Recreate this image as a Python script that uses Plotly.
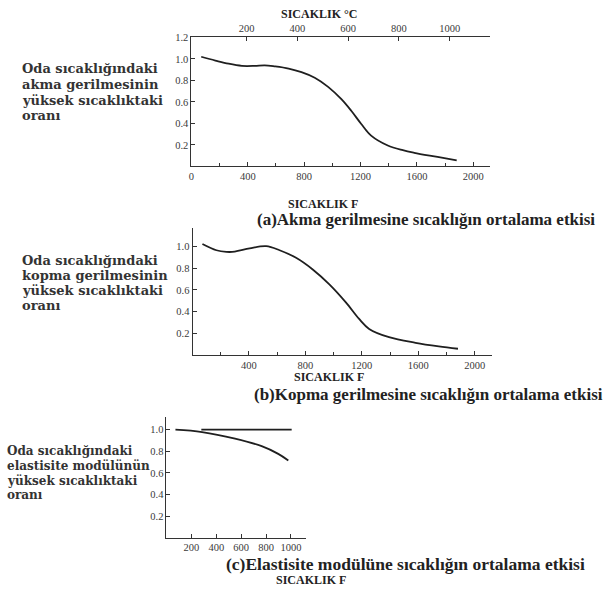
import plotly.graph_objects as go

W, H = 603, 590

# ---- data ----
a_temp_f = [70, 170, 264, 358, 450, 520, 593, 690, 781, 875, 970, 1064, 1134, 1205, 1275, 1393, 1500, 1581, 1746, 1882]
a_ratio = [1.02, 0.985, 0.955, 0.935, 0.935, 0.94, 0.93, 0.91, 0.877, 0.825, 0.74, 0.625, 0.517, 0.394, 0.286, 0.194, 0.15, 0.126, 0.087, 0.055]

b_temp_f = [70, 169, 240, 299, 405, 522, 617, 734, 852, 970, 1087, 1181, 1252, 1393, 1581, 1746, 1882]
b_ratio = [1.02, 0.963, 0.948, 0.95, 0.98, 1.0, 0.963, 0.894, 0.787, 0.65, 0.485, 0.333, 0.242, 0.166, 0.115, 0.082, 0.06]

c_temp_f_decl = [72, 286, 551, 765, 898, 979]
c_ratio_decl = [1.0, 0.978, 0.917, 0.847, 0.776, 0.715]
c_temp_f_flat = [280, 1006]
c_ratio_flat = [1.0, 1.0]

ab_xticks = [0, 400, 800, 1200, 1600, 2000]
b_xticks = [400, 800, 1200, 1600, 2000]
c_xticks = [200, 400, 600, 800, 1000]
a_yticks = [0.2, 0.4, 0.6, 0.8, 1.0, 1.2]
bc_yticks = [0.2, 0.4, 0.6, 0.8, 1.0]
celsius_ticks = [200, 400, 600, 800, 1000]

label_a = ["Oda sıcaklığındaki", "akma gerilmesinin", "yüksek sıcaklıktaki", "oranı"]
label_b = ["Oda sıcaklığındaki", "kopma gerilmesinin", "yüksek sıcaklıktaki", "oranı"]
label_c = ["Oda sıcaklığındaki", "elastisite modülünün", "yüksek sıcaklıktaki", "oranı"]
cap_a = "(a)Akma gerilmesine sıcaklığın ortalama etkisi"
cap_b = "(b)Kopma gerilmesine sıcaklığın ortalama etkisi"
cap_c = "(c)Elastisite modülüne sıcaklığın ortalama etkisi"
xlab = "SICAKLIK F"
toplab = "SICAKLIK °C"


def px(x):
    return x / W


def py(y):
    return 1 - y / H


SERIF = "Liberation Serif"
WIDE = "DejaVu Serif"
INK = "#1f1f1f"
LINE = dict(color=INK, width=1.8)
TICKFONT = dict(family=SERIF, size=10.5, color="#3a3a3a")

fig = go.Figure()
fig.add_trace(go.Scatter(x=a_temp_f, y=a_ratio, mode="lines", line=dict(shape="spline", smoothing=1.0, **LINE), xaxis="x", yaxis="y"))
fig.add_trace(go.Scatter(x=b_temp_f, y=b_ratio, mode="lines", line=dict(shape="spline", smoothing=1.0, **LINE), xaxis="x2", yaxis="y2"))
fig.add_trace(go.Scatter(x=c_temp_f_decl, y=c_ratio_decl, mode="lines", line=dict(shape="spline", smoothing=1.0, **LINE), xaxis="x3", yaxis="y3"))
fig.add_trace(go.Scatter(x=c_temp_f_flat, y=c_ratio_flat, mode="lines", line=LINE, xaxis="x3", yaxis="y3"))
# Celsius companion (invisible) so the top axis is drawn
fig.add_trace(go.Scatter(x=[(t - 32) / 1.8 for t in a_temp_f], y=a_ratio, mode="lines", line=dict(width=0, color="rgba(0,0,0,0)"), xaxis="x4", yaxis="y", hoverinfo="skip"))

ax_common = dict(showline=True, linecolor="#333", linewidth=1, ticks="inside", ticklen=4,
                 tickcolor="#333", tickfont=TICKFONT, showgrid=False, zeroline=False)

f_range = [0, 2120]
fig.update_layout(
    width=W, height=H, margin=dict(l=0, r=0, t=0, b=0),
    paper_bgcolor="white", plot_bgcolor="white", showlegend=False,
    xaxis=dict(domain=[px(189.3), px(489.7)], anchor="y", range=f_range, tickvals=ab_xticks,
               minor=dict(dtick=200, ticks="inside", ticklen=3, tickcolor="#333"), **ax_common),
    yaxis=dict(domain=[py(162.7), py(32.7)], anchor="x", range=[0, 1.2], tickvals=a_yticks,
               tickformat=".1f", **ax_common),
    xaxis4=dict(overlaying="x", anchor="y", side="top", range=[(f_range[0] - 32) / 1.8, (f_range[1] - 32) / 1.8],
                tickvals=celsius_ticks, **ax_common),
    xaxis2=dict(domain=[px(190.5), px(491)], anchor="y2", range=f_range, tickvals=b_xticks,
                minor=dict(dtick=200, ticks="inside", ticklen=3, tickcolor="#333"), **ax_common),
    yaxis2=dict(domain=[py(353.3), py(225)], anchor="x2", range=[0, 1.166], tickvals=bc_yticks,
                tickformat=".1f", **ax_common),
    xaxis3=dict(domain=[px(164.3), px(305)], anchor="y3", range=[0, 1125], tickvals=c_xticks, **ax_common),
    yaxis3=dict(domain=[py(537.3), py(416)], anchor="x3", range=[0, 1.113], tickvals=bc_yticks,
                tickformat=".1f", **ax_common),
)

ann = []


def text(x, y, s, size, anchor="left", family=SERIF, color="#222"):
    ann.append(dict(x=px(x), y=py(y), xref="paper", yref="paper", text=f"<b>{s}</b>",
                    showarrow=False, xanchor=anchor, yanchor="middle",
                    font=dict(family=family, size=size, color=color)))


def block(x, ys, lines, size=13):
    for yy, s in zip(ys, lines):
        text(x, yy, s, size, family=WIDE, color="#333")


block(17, [64, 80, 96, 111], label_a)
block(17, [258, 273, 288, 303], label_b)
block(2, [450, 465, 480, 494], label_c, size=12)

text(284, 201, xlab, 12)
text(253, 216, cap_a, 17)
text(290, 375, xlab, 12)
text(250, 393, cap_b, 17)
text(222, 564, cap_c, 17.5)
text(272, 580, xlab, 12)
text(318, 9, toplab, 12, anchor="center")

fig.update_layout(annotations=ann)
fig.write_html("out.html")
